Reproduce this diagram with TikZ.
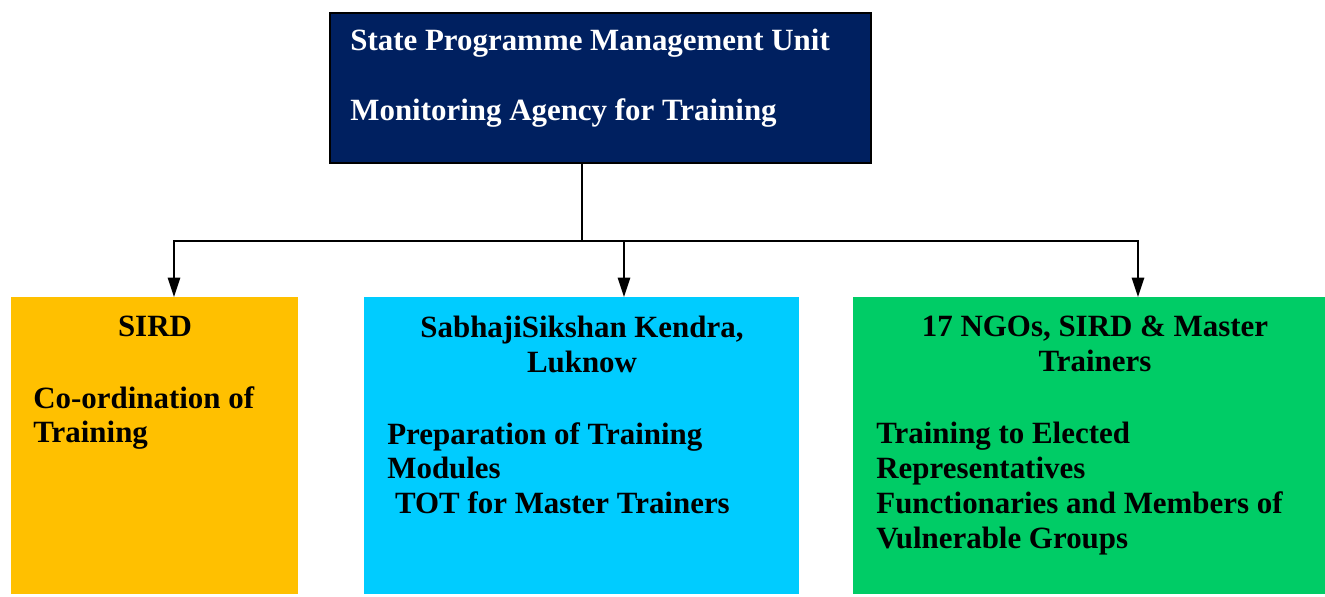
\documentclass[tikz,border=0pt]{standalone}
\usepackage{fontspec}
\setmainfont{Liberation Serif}
\usetikzlibrary{arrows.meta}

\definecolor{spmunavy}{HTML}{002060}
\definecolor{sirdorange}{HTML}{FFC000}
\definecolor{sksblue}{HTML}{00CCFF}
\definecolor{ngogreen}{HTML}{00CC66}

\tikzset{
    unitbox/.style={draw=none, inner sep=0pt, anchor=north west},
    boxtext/.style={inner sep=0pt, font=\fontsize{17.6}{19.8}\selectfont\bfseries},
    link/.style={line width=1.1pt},
    linkarrow/.style={link, -{Triangle[width=7pt,length=11pt]}}
}

\begin{document}
\begin{tikzpicture}[x=0.02cm, y=-0.02cm]
    \useasboundingbox (0,0) rectangle (1325,596);

    % State Programme Management Unit
    \node[unitbox, draw=black, line width=1.1pt, fill=spmunavy,
          minimum width=541*0.02cm, minimum height=150*0.02cm] (spmu) at (329,12) {};
    \node[boxtext, anchor=north west, align=left, text=white] (spmutext) at (350,29)
        {State Programme Management Unit\\[19.8pt]Monitoring Agency for Training};

    % SIRD
    \node[unitbox, fill=sirdorange,
          minimum width=287*0.02cm, minimum height=297*0.02cm] (sird) at (11,297) {};
    \node[boxtext, anchor=north] (sirdtitle) at (155,316) {SIRD};
    \node[boxtext, anchor=north west, align=left] (sirdtext) at (33,386)
        {Co-ordination of\\Training};

    % SabhajiSikshan Kendra
    \node[unitbox, fill=sksblue,
          minimum width=435*0.02cm, minimum height=297*0.02cm] (sks) at (364,297) {};
    \node[boxtext, anchor=north, align=center] (skstitle) at (582,316)
        {SabhajiSikshan Kendra,\\Luknow};
    \node[boxtext, anchor=north west, align=left] (skstext) at (387,422)
        {Preparation of Training\\Modules\\\ TOT for Master Trainers};

    % NGOs
    \node[unitbox, fill=ngogreen,
          minimum width=472*0.02cm, minimum height=297*0.02cm] (ngo) at (853,297) {};
    \node[boxtext, anchor=north, align=center] (ngotitle) at (1095,316)
        {17 NGOs, SIRD \& Master\\Trainers};
    \node[boxtext, anchor=north west, align=left] (ngotext) at (876,422)
        {Training to Elected\\Representatives\\Functionaries and Members of\\Vulnerable Groups};

    % connectors
    \coordinate (spmuout) at (582,162);
    \coordinate (split) at (582,241);
    \coordinate (sirdin) at (174,297);
    \coordinate (sksin) at (624,297);
    \coordinate (ngoin) at (1138,297);
    \draw[link] (spmuout) -- (split);
    \draw[linkarrow] (split) -| (sirdin);
    \draw[linkarrow] (split) -| (sksin);
    \draw[linkarrow] (split) -| (ngoin);
\end{tikzpicture}
\end{document}
